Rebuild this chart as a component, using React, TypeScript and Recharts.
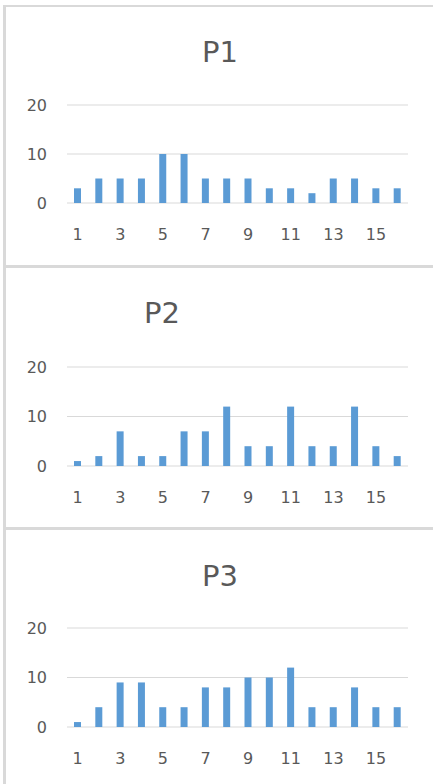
import React from 'react';
import { BarChart, Bar, XAxis, YAxis, CartesianGrid } from 'recharts';

const categories = ['1', '2', '3', '4', '5', '6', '7', '8', '9', '10', '11', '12', '13', '14', '15', '16'];
const p1Values = [3, 5, 5, 5, 10, 10, 5, 5, 5, 3, 3, 2, 5, 5, 3, 3];
const p2Values = [1, 2, 7, 2, 2, 7, 7, 12, 4, 4, 12, 4, 4, 12, 4, 2];
const p3Values = [1, 4, 9, 9, 4, 4, 8, 8, 10, 10, 12, 4, 4, 8, 4, 4];
const yTicks = [0, 10, 20];
const titles = ['P1', 'P2', 'P3'];

const BLUE = '#5B9BD5';
const TEXT = '#595959';
const GRID = '#d9d9d9';
const FONT = '"DejaVu Sans", sans-serif';

const W = 433;

interface PanelProps {
  values: number[];
  top: number;
  height: number;
  gridTop: number;
  axisY: number;
}

const Panel: React.FC<PanelProps> = ({ values, top, height, gridTop, axisY }) => {
  const data = categories.map((c, i) => ({ name: c, value: values[i] }));
  return (
    <div style={{ position: 'absolute', left: 0, top, width: W, height }}>
      <BarChart
        width={W}
        height={height}
        data={data}
        margin={{ top: gridTop - top, right: 25, bottom: 0, left: 0 }}
        barCategoryGap={0}
      >
        <CartesianGrid horizontal vertical={false} stroke={GRID} strokeWidth={1} />
        <XAxis
          dataKey="name"
          interval={1}
          axisLine={false}
          tickLine={false}
          tickSize={0}
          tickMargin={26}
          height={top + height - axisY}
          tick={{ fill: TEXT, fontSize: 16, fontFamily: FONT }}
        />
        <YAxis
          domain={[0, 20]}
          ticks={yTicks}
          width={67}
          axisLine={false}
          tickLine={false}
          tickSize={0}
          tickMargin={20}
          tick={{ fill: TEXT, fontSize: 16, fontFamily: FONT }}
        />
        <Bar dataKey="value" fill={BLUE} barSize={7} isAnimationActive={false} />
      </BarChart>
    </div>
  );
};

export default function App() {
  return (
    <div style={{ position: 'absolute', left: 0, top: 0, width: W, height: 784, background: '#fff', overflow: 'hidden' }}>
      {/* frame lines */}
      <div style={{ position: 'absolute', left: 3, top: 5, width: 3, height: 779, background: GRID }} />
      <div style={{ position: 'absolute', left: 3, top: 5, width: 430, height: 2, background: GRID }} />
      <div style={{ position: 'absolute', left: 3, top: 265, width: 430, height: 3, background: GRID }} />
      <div style={{ position: 'absolute', left: 3, top: 527, width: 430, height: 3, background: GRID }} />

      <Panel values={p1Values} top={7} height={258} gridTop={105} axisY={203} />
      <Panel values={p2Values} top={268} height={259} gridTop={367} axisY={466} />
      <Panel values={p3Values} top={530} height={254} gridTop={628} axisY={727} />

      <svg width={W} height={784} style={{ position: 'absolute', left: 0, top: 0, pointerEvents: 'none' }}>
        <text x={220} y={62} textAnchor="middle" fill={TEXT} fontSize={29} fontFamily={FONT}>{titles[0]}</text>
        <text x={162} y={323} textAnchor="middle" fill={TEXT} fontSize={29} fontFamily={FONT}>{titles[1]}</text>
        <text x={220} y={586} textAnchor="middle" fill={TEXT} fontSize={29} fontFamily={FONT}>{titles[2]}</text>
      </svg>
    </div>
  );
}
